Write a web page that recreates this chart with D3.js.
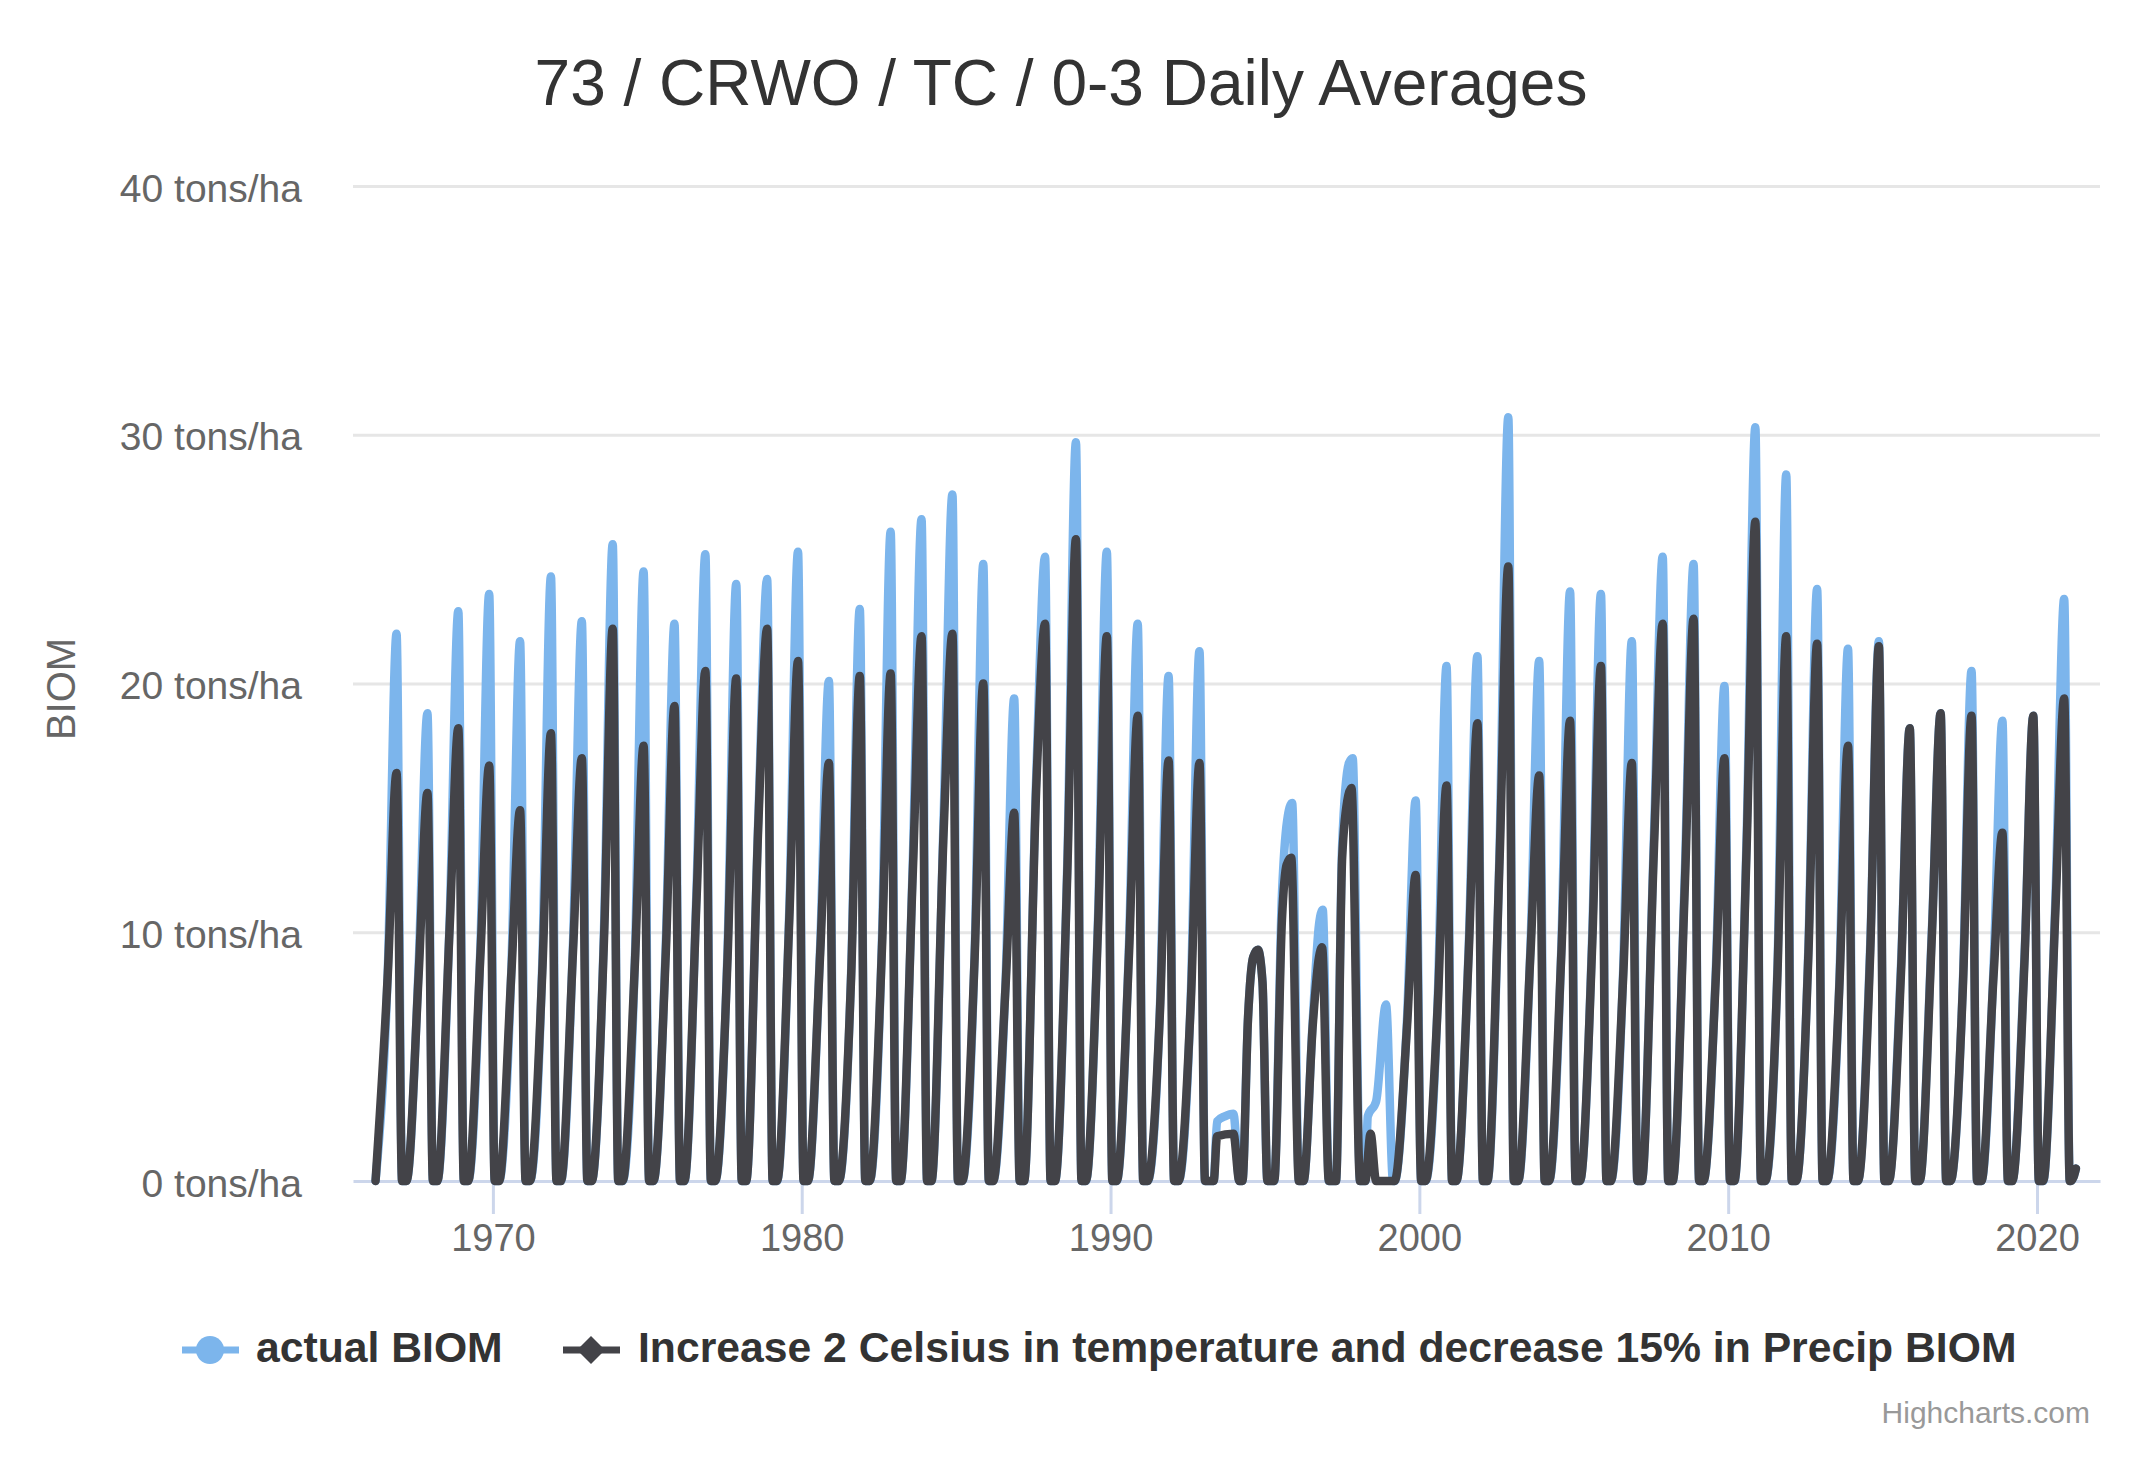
<!DOCTYPE html>
<html>
<head>
<meta charset="utf-8">
<script src="https://cdn.jsdelivr.net/npm/d3@7"></script>
<style>
  html, body { margin: 0; padding: 0; background: #ffffff; }
  svg { display: block; font-family: "Liberation Sans", Arial, sans-serif; }
</style>
</head>
<body>
<svg id="chart" width="2129" height="1468"></svg>
<script>
// ---------------- DATA ----------------
const chartTitle = "73 / CRWO / TC / 0-3 Daily Averages";
const yAxisTitle = "BIOM";
const yTicks = [0, 10, 20, 30, 40];
const yTickUnit = " tons/ha";
const xTicks = [1970, 1980, 1990, 2000, 2010, 2020];
const seriesNames = ["actual BIOM", "Increase 2 Celsius in temperature and decrease 15% in Precip BIOM"];

// Regular growing seasons (peak values)
const seasonsA = [1966,1967,1968,1969,1970,1971,1972,1973,1974,1975,1976,1977,1978,1979,1980,1981,1982,1983,1984,1985,1986,1987,1988,1989,1990,1991,1992];
const actualPeakA   = [22.0,18.8,22.9,23.6,21.7,24.3,22.5,25.6,24.5,22.4,25.2,24.0,24.2,25.3,20.1,23.0,26.1,26.6,27.6,24.8,19.4,25.1,29.7,25.3,22.4,20.3,21.3];
const scenarioPeakA = [16.4,15.6,18.2,16.7,14.9,18.0,17.0,22.2,17.5,19.1,20.5,20.2,22.2,20.9,16.8,20.3,20.4,21.9,22.0,20.0,14.8,22.4,25.8,21.9,18.7,16.9,16.8];
const actualMidA    = [8.6,8.8,10.5,9.6,8.6,8.8,9.8,10.2,9.0,9.6,12.0,9.4,14.8,11.0,9.5,8.4,9.8,13.0,14.8,9.2,8.0,16.5,12.8,10.8,9.6,7.0,7.5];
const scenarioMidA  = [8.4,8.4,10.2,9.2,8.4,8.4,9.4,9.8,8.8,9.2,11.5,9.0,14.5,10.6,9.2,8.2,9.4,12.5,14.2,9.0,7.8,16.0,12.4,10.4,9.2,6.8,7.2];

const seasonsB = [1999,2000,2001,2002,2003,2004,2005,2006,2007,2008,2009,2010,2011,2012,2013,2014,2015,2016,2017,2018,2019,2020];
const actualPeakB   = [15.3,20.7,21.1,30.7,20.9,23.7,23.6,21.7,25.1,24.8,19.9,30.3,28.4,23.8,21.4,21.7,18.2,18.8,20.5,18.5,18.7,23.4];
const scenarioPeakB = [12.3,15.9,18.4,24.7,16.3,18.5,20.7,16.8,22.4,22.6,17.0,26.5,21.9,21.6,17.5,21.5,18.2,18.8,18.7,14.0,18.7,19.4];
const actualMidB    = [6.5,7.5,9.5,13.5,9.5,9.5,10.0,8.5,14.0,12.5,8.5,14.0,8.8,9.5,8.0,9.5,8.8,10.2,8.0,8.8,9.2,11.5];
const scenarioMidB  = [6.2,7.2,9.2,13.0,9.2,9.2,9.6,8.2,13.5,12.0,8.2,13.5,8.5,9.2,7.8,9.2,8.5,10.0,7.8,8.4,9.0,11.0];

// Fractions of the year for [rise start, mid-season, peak, harvest]
const seasonPhase = [0.2, 0.6, 0.88, 1.06];

// Irregular seasons 1993-1998: [decimal year, value]
const irregularActual = [[1993.08,0],[1993.34,0],[1993.45,2.4],[1993.7,2.6],[1993.98,2.7],[1994.17,0],[1994.27,0],[1994.45,6.5],[1994.62,9.0],[1994.77,9.3],[1994.92,8.0],[1995.08,0],[1995.3,0],[1995.55,11.5],[1995.72,14.5],[1995.88,15.2],[1996.1,0],[1996.25,0],[1996.55,6.5],[1996.75,10.3],[1996.87,10.9],[1997.07,0],[1997.3,0],[1997.5,13.5],[1997.72,16.8],[1997.84,17.0],[1998.08,0],[1998.25,0],[1998.33,2.6],[1998.6,3.2],[1998.92,7.1],[1999.15,0]];
const irregularScenario = [[1993.08,0],[1993.34,0],[1993.45,1.8],[1993.98,1.9],[1994.17,0],[1994.27,0],[1994.45,6.5],[1994.62,9.0],[1994.77,9.3],[1994.92,8.0],[1995.08,0],[1995.3,0],[1995.55,10.5],[1995.7,12.7],[1995.85,13.0],[1996.1,0],[1996.25,0],[1996.55,6.3],[1996.75,9.0],[1996.85,9.4],[1997.07,0],[1997.3,0],[1997.5,13.0],[1997.7,15.5],[1997.8,15.8],[1998.08,0],[1998.25,0],[1998.42,1.9],[1998.6,0],[1999.15,0]];
const tailPoints = [[2021.1,0],[2021.18,0.15],[2021.26,0.5]];

// ---------------- BUILD SERIES ----------------
function seasonPoints(years, peaks, mids) {
  const pts = [];
  years.forEach((yr, i) => {
    pts.push([yr + seasonPhase[0], 0]);
    pts.push([yr + seasonPhase[1], mids[i]]);
    pts.push([yr + seasonPhase[2], peaks[i]]);
    pts.push([yr + seasonPhase[3], 0]);
  });
  return pts;
}
const actualSeries = [].concat(
  seasonPoints(seasonsA, actualPeakA, actualMidA),
  irregularActual,
  seasonPoints(seasonsB, actualPeakB, actualMidB),
  tailPoints
);
const scenarioSeries = [].concat(
  seasonPoints(seasonsA, scenarioPeakA, scenarioMidA),
  irregularScenario,
  seasonPoints(seasonsB, scenarioPeakB, scenarioMidB),
  tailPoints
);

// ---------------- LAYOUT ----------------
const svg = d3.select("#chart");
const plot = { left: 353, right: 2100, top: 186, bottom: 1181 };
const colors = ["#7cb5ec", "#434348"];

const x = d3.scaleLinear().domain([1965.47, 2022.04]).range([plot.left, plot.right]);
const y = d3.scaleLinear().domain([0, 40]).range([plot.bottom, plot.top]);

// Title
svg.append("text")
  .attr("x", 1061).attr("y", 105)
  .attr("text-anchor", "middle")
  .attr("font-size", 64).attr("fill", "#333333")
  .text(chartTitle);

// Grid lines + y labels
const yAxis = d3.axisLeft(y).tickValues(yTicks).tickSize(0).tickPadding(0)
  .tickFormat(d => d + yTickUnit);
const gy = svg.append("g").attr("transform", `translate(${plot.left},0)`).call(yAxis);
gy.select(".domain").remove();
gy.selectAll(".tick text")
  .attr("x", -51).attr("dy", 15)
  .attr("font-size", 39).attr("fill", "#666666")
  .attr("font-family", "Liberation Sans, Arial, sans-serif");
gy.selectAll(".tick").filter(d => d !== 0).append("line")
  .attr("x1", 0).attr("x2", plot.right - plot.left)
  .attr("stroke", "#e6e6e6").attr("stroke-width", 3);

// Y axis title
svg.append("text")
  .attr("transform", "translate(75,689) rotate(-90)")
  .attr("text-anchor", "middle")
  .attr("font-size", 40).attr("fill", "#666666")
  .text(yAxisTitle);

// X axis
const xAxis = d3.axisBottom(x).tickValues(xTicks).tickFormat(d3.format("d"))
  .tickSize(33).tickSizeOuter(0).tickPadding(10);
const gx = svg.append("g").attr("transform", `translate(0,${plot.bottom})`).call(xAxis);
gx.select(".domain").attr("stroke", "#ccd6eb").attr("stroke-width", 3);
gx.selectAll(".tick line").attr("stroke", "#ccd6eb").attr("stroke-width", 3);
gx.selectAll(".tick text")
  .attr("font-size", 38).attr("fill", "#666666")
  .attr("font-family", "Liberation Sans, Arial, sans-serif");

// Lines
const line = d3.line().x(d => x(d[0])).y(d => y(d[1])).curve(d3.curveMonotoneX);
[actualSeries, scenarioSeries].forEach((s, i) => {
  svg.append("path")
    .datum(s)
    .attr("d", line)
    .attr("fill", "none")
    .attr("stroke", colors[i])
    .attr("stroke-width", 8.5)
    .attr("stroke-linejoin", "round")
    .attr("stroke-linecap", "round");
});

// Legend
const legendY = 1350;
const legendItems = [
  { sx: 182, tx: 256, marker: "circle" },
  { sx: 563, tx: 638, marker: "diamond" }
];
legendItems.forEach((it, i) => {
  const g = svg.append("g");
  g.append("line").attr("x1", it.sx).attr("x2", it.sx + 57)
    .attr("y1", legendY).attr("y2", legendY)
    .attr("stroke", colors[i]).attr("stroke-width", 7);
  const cx = it.sx + 28;
  if (it.marker === "circle") {
    g.append("circle").attr("cx", cx).attr("cy", legendY).attr("r", 14).attr("fill", colors[i]);
  } else {
    g.append("path")
      .attr("d", `M${cx},${legendY-14}L${cx+14},${legendY}L${cx},${legendY+14}L${cx-14},${legendY}Z`)
      .attr("fill", colors[i]);
  }
  g.append("text").attr("x", it.tx).attr("y", legendY + 12)
    .attr("font-size", 42.7).attr("font-weight", "bold").attr("fill", "#333333")
    .text(seriesNames[i]);
});

// Credits
svg.append("text")
  .attr("x", 2090).attr("y", 1423)
  .attr("text-anchor", "end")
  .attr("font-size", 30).attr("fill", "#999999")
  .text("Highcharts.com");
</script>
</body>
</html>
